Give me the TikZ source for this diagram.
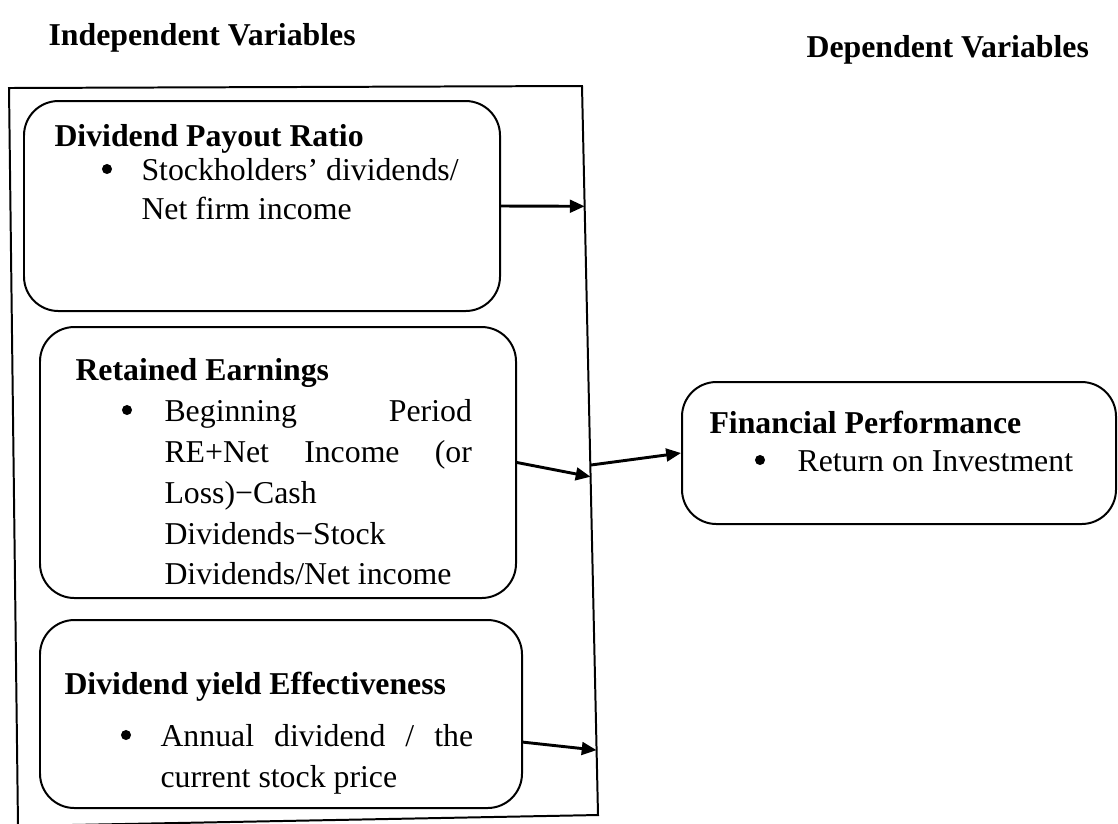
\documentclass[tikz,border=0pt]{standalone}
\usepackage{fontspec}
\setmainfont{Liberation Serif}
\usetikzlibrary{arrows.meta,fit,calc}

\begin{document}
\begin{tikzpicture}[x=0.3774pt, y=-0.3774pt,
        every node/.style={font=\fontsize{12}{13.8}\selectfont, inner sep=0pt},
        frame/.style={line width=0.75pt},
        varbox/.style={draw, line width=0.75pt, rounded corners=13pt, inner sep=0pt},
        title/.style={anchor=base west, font=\fontsize{12}{13.8}\selectfont\bfseries},
        txt/.style={anchor=base west},
        link/.style={line width=1.1pt, -{Triangle[length=5.6pt,width=4.8pt]}}]
    \useasboundingbox (0,0) rectangle (1118,823);

    % Intestazioni
    \node[title] (indep) at (48,45) {Independent Variables};
    \node[title] (dep) at (806,57) {Dependent Variables};

    % Cornice delle variabili indipendenti (leggermente storta)
    \coordinate (F1) at (9,88);
    \coordinate (F2) at (582,86);
    \coordinate (F3) at (598,815);
    \coordinate (F4) at (18,826);
    \draw[frame] (F1) -- (F2) -- (F3) -- (F4) -- cycle;

    % Riquadri
    \node[varbox, fit={(24,101) (500,311)}] (payout) {};
    \node[varbox, fit={(40,327) (516,598)}] (retained) {};
    \node[varbox, fit={(40,620) (522,808)}] (yieldbox) {};
    \node[varbox, fit={(682,382) (1116,524)}] (perf) {};

    % Punti elenco
    \foreach \p in {(107,169), (127,410), (126,735), (760,460)}{
            \fill \p circle (1.9pt);
        }

    % Dividend Payout Ratio
    \node[title] (payout-t) at (54,146) {Dividend Payout Ratio};
    \foreach \y/\txt [count=\i] in {
            180/{Stockholders’ dividends/},
            219/{Net firm income}}{
            \node[txt] (payout\i) at (141,\y) {\txt};
        }

    % Retained Earnings
    \node[title] (retained-t) at (75,380) {Retained Earnings};
    \foreach \y/\txt [count=\i] in {
            421/{\makebox[116pt][s]{Beginning Period}},
            462/{\makebox[116pt][s]{RE+Net Income (or}},
            503/{Loss)−Cash},
            544/{Dividends−Stock},
            584/{Dividends/Net income}}{
            \node[txt] (retained\i) at (164,\y) {\txt};
        }

    % Dividend yield Effectiveness
    \node[title] (yield-t) at (64,694) {Dividend yield Effectiveness};
    \foreach \y/\txt [count=\i] in {
            746/{\makebox[118pt][s]{Annual dividend / the}},
            787/{current stock price}}{
            \node[txt] (yield\i) at (160,\y) {\txt};
        }

    % Financial Performance
    \node[title] (perf-t) at (709,433) {Financial Performance};
    \node[txt] (perf1) at (797,471) {Return on Investment};

    % Punti di arrivo sulla cornice
    \coordinate (a1) at ($(F2)!0.165!(F3)$);
    \coordinate (a2) at ($(F2)!0.536!(F3)$);
    \coordinate (a3) at ($(F2)!0.520!(F3)$);
    \coordinate (a4) at ($(F2)!0.911!(F3)$);
    \coordinate (d3) at (522,742);

    % Frecce
    \draw[link] (payout.east) -- (a1);
    \draw[link] (retained.east) -- (a2);
    \draw[link] (a3) -- (perf.west);
    \draw[link] (d3) -- (a4);
\end{tikzpicture}
\end{document}
